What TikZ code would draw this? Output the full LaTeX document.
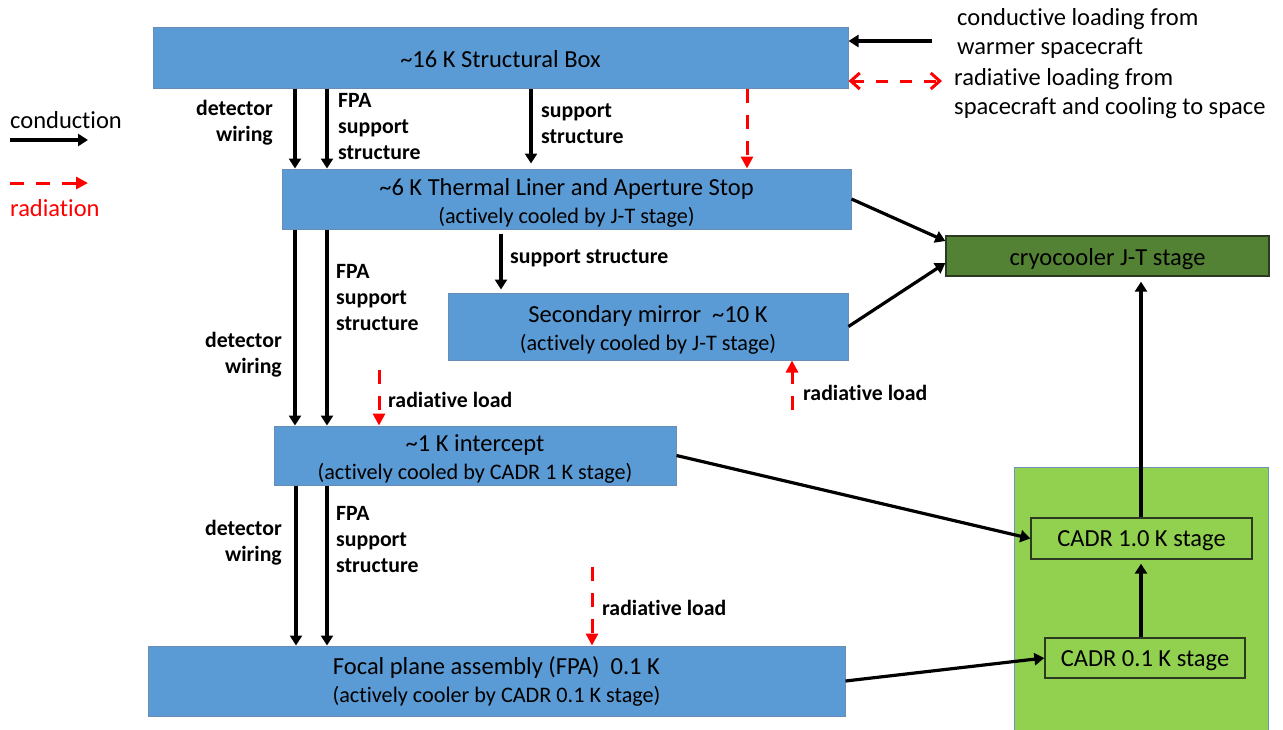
\documentclass[tikz,border=0pt]{standalone}
\usepackage{fontspec}
\setmainfont{Carlito}[Ligatures=NoCommon]
\usetikzlibrary{arrows.meta}
\definecolor{boxblue}{HTML}{5B9BD5}
\definecolor{boxedge}{HTML}{6A8DB8}
\definecolor{jtgreen}{HTML}{548235}
\definecolor{jtedge}{HTML}{2B3A20}
\definecolor{litegreen}{HTML}{92D050}
\definecolor{regionedge}{HTML}{6F93B8}
\definecolor{radred}{HTML}{FF0000}
\newcommand{\mainsz}{\fontsize{24.5}{28}\selectfont}
\newcommand{\subsz}{\fontsize{22.2}{28}\selectfont}
\newcommand{\lblsz}{\fontsize{21.8}{26}\selectfont\bfseries}
\newcommand{\topstrut}{\rule{0pt}{24pt}}
\newcommand{\midstrut}{\rule{0pt}{21pt}}
\begin{document}
\begin{tikzpicture}[x=1pt,y=-1pt,
  bluebox/.style={draw=boxedge, line width=1pt, fill=boxblue, inner sep=0pt, align=center, font=\mainsz},
  jtbox/.style={draw=jtedge, line width=1.3pt, fill=jtgreen, inner sep=0pt, font=\mainsz},
  cadrbox/.style={draw=jtedge, line width=1.3pt, fill=litegreen, inner sep=0pt, font=\mainsz},
  lbl/.style={inner sep=0pt, font=\lblsz},
  legtext/.style={inner sep=0pt, font=\fontsize{24.5}{29}\selectfont, align=left, anchor=west},
  cond/.style={line width=3.2pt, -{Triangle[length=10pt,width=12pt]}},
  rad/.style={draw=radred, line width=3pt, dash pattern=on 14pt off 12pt, -{Triangle[length=12pt,width=12pt]}},
  radboth/.style={draw=radred, line width=3pt, dash pattern=on 12pt off 12pt, {Straight Barb[length=9pt,width=16pt]}-{Straight Barb[length=9pt,width=16pt]}}
]
\fill[white] (0,0) rectangle (1283,729);
\useasboundingbox (0,0) rectangle (1283,729);

% green region
\path[draw=regionedge, line width=1pt, fill=litegreen] (1014,467) rectangle (1268,740);

% boxes
\node[bluebox, minimum width=695pt, minimum height=61pt] (struct) at (500.5,57.5) {\midstrut\textasciitilde 16 K Structural Box};
\node[bluebox, minimum width=569pt, minimum height=60pt] (thermal) at (566.5,199)
  {\topstrut\textasciitilde 6 K Thermal Liner and Aperture Stop\\{\subsz (actively cooled by J-T stage)}};
\node[bluebox, minimum width=400pt, minimum height=67pt] (second) at (648,326.5)
  {\topstrut Secondary mirror \ \textasciitilde 10 K\\{\subsz (actively cooled by J-T stage)}};
\node[bluebox, minimum width=402pt, minimum height=59pt] (onek) at (475,455.5)
  {\topstrut\textasciitilde 1 K intercept\\{\subsz (actively cooled by CADR 1 K stage)}};
\node[bluebox, minimum width=697pt, minimum height=70pt] (fpa) at (496.5,681)
  {Focal plane assembly (FPA) \ 0.1 K\\{\subsz (actively cooler by CADR 0.1 K stage)}};
\node[jtbox, minimum width=323pt, minimum height=40pt] (cryo) at (1107.5,256) {\topstrut cryocooler J-T stage};
\node[cadrbox, minimum width=221pt, minimum height=41pt] (cadra) at (1141.5,538.5) {\midstrut CADR 1.0 K stage};
\node[cadrbox, minimum width=200pt, minimum height=40pt] (cadrb) at (1145,658) {\midstrut CADR 0.1 K stage};

% legend
\node[legtext] (legc) at (10,120) {conduction};
\coordinate (lca) at (10,140);
\coordinate (lcb) at (88,140);
\draw[cond] (lca) -- (lcb);
\coordinate (lra) at (10,183);
\coordinate (lrb) at (88,183);
\draw[rad] (lra) -- (lrb);
\node[legtext, text=radred] (legr) at (10,208) {radiation};

\node[legtext] (legcin) at (957,33) {conductive loading from\\warmer spacecraft};
\node[legtext] (legrin) at (954,94) {radiative loading from\\spacecraft and cooling to space};
\coordinate (cin) at (932,41);
\draw[cond] (cin) -- (struct.east |- cin);
\coordinate (rin) at (942,81);
\draw[radboth] (struct.east |- rin) -- (rin);

% x positions
\coordinate (xa) at (295,0);
\coordinate (xb) at (327,0);
\coordinate (xs) at (531,0);
\coordinate (xr) at (747,0);
\coordinate (xt) at (501,0);
\coordinate (xc) at (1141,0);
\coordinate (xd) at (296,0);

% struct -> thermal
\draw[cond] (xa |- struct.south) -- (xa |- thermal.north);
\draw[cond] (xb |- struct.south) -- (xb |- thermal.north);
\draw[cond, shorten >=5pt] (xs |- struct.south) -- (xs |- thermal.north);
\draw[rad] (xr |- struct.south) -- (xr |- thermal.north);
\node[lbl, align=right, anchor=east] (l1) at (273,123) {detector\\wiring};
\node[lbl, align=left, anchor=west] (l2) at (338,127) {FPA\\support\\structure};
\node[lbl, align=left, anchor=west] (l3) at (541,124) {support\\structure};

% thermal -> second, onek
\draw[cond, shorten <=4pt, shorten >=3pt] (xt |- thermal.south) -- (xt |- second.north);
\node[lbl, anchor=west] (l4) at (510,258) {support structure};
\draw[cond] (xa |- thermal.south) -- (xa |- onek.north);
\draw[cond] (xb |- thermal.south) -- (xb |- onek.north);
\node[lbl, align=right, anchor=east] (l5) at (282,355) {detector\\wiring};
\node[lbl, align=left, anchor=west] (l6) at (336,298) {FPA\\support\\structure};
\coordinate (r1) at (379,370);
\draw[rad] (r1) -- (r1 |- onek.north);
\node[lbl, anchor=west] (l7) at (388,400) {radiative load};

% to cryocooler
\draw[cond] (thermal.east) -- ([yshift=15pt]cryo.west);
\draw[cond] (second.east) -- ([yshift=-7pt]cryo.west);
\coordinate (r2) at (792,410);
\draw[rad] (r2) -- (r2 |- second.south);
\node[lbl, anchor=west] (l8) at (803,393) {radiative load};

% onek -> fpa, cadr
\draw[cond] (onek.east) -- (cadra.west);
\draw[cond] (xd |- onek.south) -- (xd |- fpa.north);
\draw[cond] (xb |- onek.south) -- (xb |- fpa.north);
\node[lbl, align=right, anchor=east] (l9) at (282,543) {detector\\wiring};
\node[lbl, align=left, anchor=west] (l10) at (336,540) {FPA\\support\\structure};
\coordinate (r3) at (592,567);
\draw[rad] (r3) -- (r3 |- fpa.north);
\node[lbl, anchor=west] (l11) at (602,608) {radiative load};

% fpa -> cadr
\draw[cond] (fpa.east) -- (cadrb.west);
\draw[cond, shorten >=4pt] (xc |- cadrb.north) -- (xc |- cadra.south);
\draw[cond, shorten >=5pt] (xc |- cadra.north) -- (xc |- cryo.south);
\end{tikzpicture}
\end{document}
